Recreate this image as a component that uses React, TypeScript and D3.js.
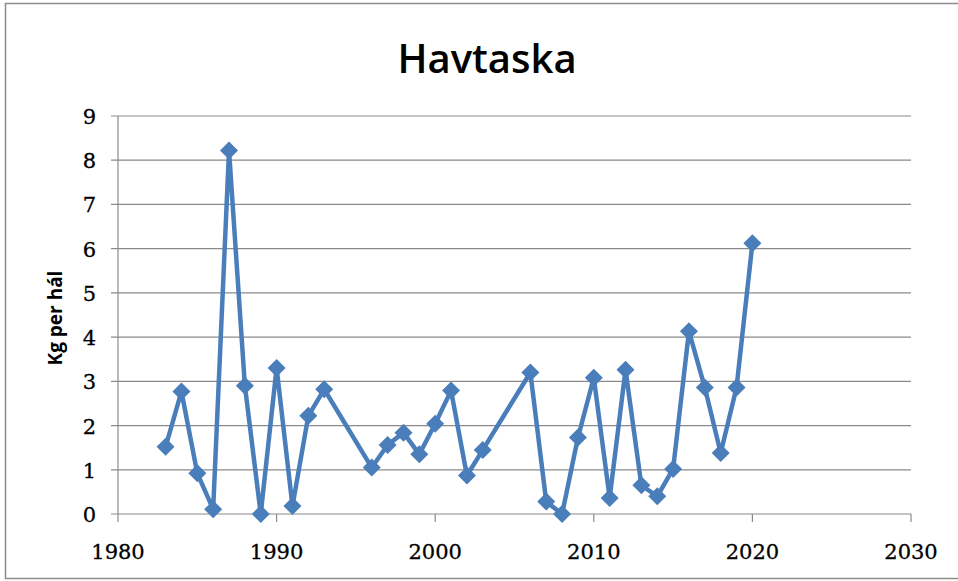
import React, { useEffect, useRef } from "react";
import * as d3 from "d3";

const years = [
  1983, 1984, 1985, 1986, 1987, 1988, 1989, 1990, 1991, 1992, 1993, 1996, 1997,
  1998, 1999, 2000, 2001, 2002, 2003, 2006, 2007, 2008, 2009, 2010, 2011, 2012,
  2013, 2014, 2015, 2016, 2017, 2018, 2019, 2020,
];
const kgPerHaul = [
  1.52, 2.77, 0.92, 0.11, 8.22, 2.9, 0.0, 3.3, 0.18, 2.22, 2.82, 1.05, 1.56,
  1.84, 1.35, 2.04, 2.79, 0.87, 1.45, 3.2, 0.28, 0.0, 1.73, 3.08, 0.36, 3.26,
  0.65, 0.4, 1.02, 4.13, 2.86, 1.38, 2.86, 6.12,
];
const xTicks = [1980, 1990, 2000, 2010, 2020, 2030];
const yTicks = [0, 1, 2, 3, 4, 5, 6, 7, 8, 9];

const W = 958;
const H = 581;
const margin = { left: 118, right: 47, top: 116, bottom: 67 };

const App: React.FC = () => {
  const svgRef = useRef<SVGSVGElement | null>(null);

  useEffect(() => {
    if (!svgRef.current) return;
    const svg = d3.select(svgRef.current);
    svg.selectAll("*").remove();

    const x = d3
      .scaleLinear()
      .domain([1980, 2030])
      .range([margin.left, W - margin.right]);
    const y = d3
      .scaleLinear()
      .domain([0, 9])
      .range([H - margin.bottom, margin.top]);

    // outer frame
    svg
      .append("rect")
      .attr("x", 5.5)
      .attr("y", 3.5)
      .attr("width", W)
      .attr("height", 575)
      .attr("fill", "#fff")
      .attr("stroke", "#8c8c8c")
      .attr("stroke-width", 1.5);

    // title
    svg
      .append("text")
      .attr("x", 487)
      .attr("y", 73)
      .attr("text-anchor", "middle")
      .attr("font-family", "'Open Sans', sans-serif")
      .attr("font-weight", 600)
      .attr("font-size", 40)
      .attr("fill", "#000")
      .text("Havtaska");

    // gridlines
    svg
      .append("g")
      .selectAll("line")
      .data(yTicks)
      .enter()
      .append("line")
      .attr("x1", margin.left - 7)
      .attr("x2", W - margin.right)
      .attr("y1", (d) => y(d))
      .attr("y2", (d) => y(d))
      .attr("stroke", "#8a8a8a")
      .attr("stroke-width", 1.2);

    // y axis line
    svg
      .append("line")
      .attr("x1", margin.left)
      .attr("x2", margin.left)
      .attr("y1", y(9))
      .attr("y2", y(0))
      .attr("stroke", "#8a8a8a")
      .attr("stroke-width", 1.2);

    // x ticks
    svg
      .append("g")
      .selectAll("line")
      .data(xTicks)
      .enter()
      .append("line")
      .attr("x1", (d) => x(d))
      .attr("x2", (d) => x(d))
      .attr("y1", y(0))
      .attr("y2", y(0) + 8)
      .attr("stroke", "#8a8a8a")
      .attr("stroke-width", 1.2);

    const tickFont = "'DejaVu Serif', serif";

    svg
      .append("g")
      .selectAll("text")
      .data(yTicks)
      .enter()
      .append("text")
      .attr("x", 96)
      .attr("y", (d) => y(d) + 8)
      .attr("text-anchor", "end")
      .attr("font-family", tickFont)
      .attr("font-size", 21)
      .attr("fill", "#000")
      .attr("stroke", "#000")
      .attr("stroke-width", 0.3)
      .text((d) => d);

    svg
      .append("g")
      .selectAll("text")
      .data(xTicks)
      .enter()
      .append("text")
      .attr("x", (d) => x(d))
      .attr("y", y(0) + 45)
      .attr("text-anchor", "middle")
      .attr("font-family", tickFont)
      .attr("font-size", 21)
      .attr("fill", "#000")
      .attr("stroke", "#000")
      .attr("stroke-width", 0.3)
      .text((d) => d);

    // y axis label
    svg
      .append("text")
      .attr("transform", `translate(62, 318) rotate(-90)`)
      .attr("text-anchor", "middle")
      .attr("font-family", "'Open Sans', sans-serif")
      .attr("font-weight", 700)
      .attr("font-size", 19)
      .attr("fill", "#000")
      .text("Kg per hál");

    const pts = years.map((yr, i) => [yr, kgPerHaul[i]] as [number, number]);

    const line = d3
      .line<[number, number]>()
      .x((d) => x(d[0]))
      .y((d) => y(d[1]));

    svg
      .append("path")
      .datum(pts)
      .attr("fill", "none")
      .attr("stroke", "#4a7ebb")
      .attr("stroke-width", 4.5)
      .attr("stroke-linejoin", "round")
      .attr("d", line);

    const r = 9;
    svg
      .append("g")
      .selectAll("path")
      .data(pts)
      .enter()
      .append("path")
      .attr("fill", "#4a7ebb")
      .attr("d", (d) => {
        const cx = x(d[0]);
        const cy = y(d[1]);
        return `M${cx},${cy - r}L${cx + r},${cy}L${cx},${cy + r}L${cx - r},${cy}Z`;
      });
  }, []);

  return (
    <svg
      ref={svgRef}
      width={W}
      height={H}
      style={{ display: "block", position: "absolute", left: 0, top: 0 }}
    />
  );
};

export default App;
